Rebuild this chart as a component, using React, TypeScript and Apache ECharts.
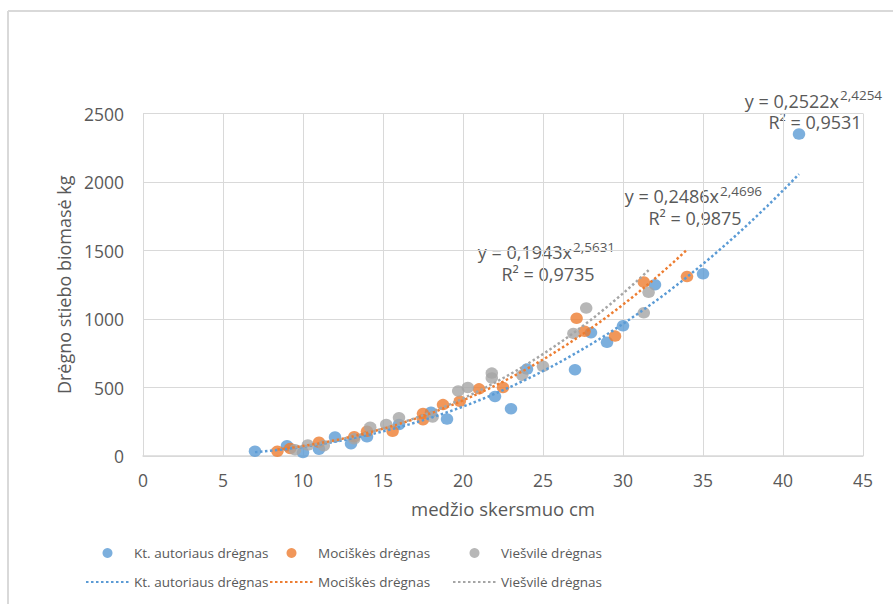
import React, { useEffect, useRef } from "react";
import * as echarts from "echarts";

// ---- data ----
const ktX = [7, 9, 10, 11, 12, 13, 14, 16, 18, 19, 22, 23, 24, 27, 28, 29, 30, 32, 35, 41];
const ktY = [35, 75, 25, 50, 138, 90, 140, 230, 320, 270, 435, 345, 635, 630, 900, 830, 950, 1250, 1330, 2350];

const mocX = [8.4, 9.2, 11, 13.2, 14, 15.6, 17.5, 17.5, 18.75, 19.8, 21, 22.5, 27.1, 27.6, 29.5, 31.3, 34];
const mocY = [35, 55, 100, 140, 180, 180, 265, 310, 375, 400, 490, 500, 1005, 910, 875, 1270, 1310];

const vieX = [9.5, 10.3, 11.3, 13.2, 14.2, 15.2, 16, 18.1, 19.7, 20.3, 21.8, 21.8, 23.7, 25, 26.9, 27.7, 31.3, 31.6];
const vieY = [45, 80, 75, 125, 210, 230, 280, 285, 475, 500, 605, 570, 590, 655, 895, 1080, 1045, 1195];

const seriesNames = ["Kt. autoriaus drėgnas", "Mociškės drėgnas", "Viešvilė drėgnas"];

// power trendline coefficients shown on the chart: y = a * x^b
const trendA = [0.2522, 0.2486, 0.1943];
const trendB = [2.4254, 2.4696, 2.5631];
const trendAText = ["0,2522", "0,2486", "0,1943"];
const trendBText = ["2,4254", "2,4696", "2,5631"];
const r2Text = ["0,9531", "0,9875", "0,9735"];

const colors = ["#5B9BD5", "#ED7D31", "#A5A5A5"];
const TREND = " trend";

const FONT = "'Open Sans', sans-serif";
const TXT = "#595959";
const GRID = "#d9d9d9";

function pairs(xs: number[], ys: number[]) {
  return xs.map((x, i) => [x, ys[i]]);
}

function trendCurve(a: number, b: number, xs: number[]) {
  const x0 = Math.min(...xs);
  const x1 = Math.max(...xs);
  const pts: number[][] = [];
  const n = 120;
  for (let i = 0; i <= n; i++) {
    const x = x0 + ((x1 - x0) * i) / n;
    pts.push([x, a * Math.pow(x, b)]);
  }
  return pts;
}

export default function App() {
  const ref = useRef<HTMLDivElement>(null);

  useEffect(() => {
    document.body.style.margin = "0";
    const chart = echarts.init(ref.current!, null, { renderer: "svg" });
    const xsAll = [ktX, mocX, vieX];
    const ysAll = [ktY, mocY, vieY];

    const scatter = seriesNames.map((name, i) => ({
      name,
      type: "scatter",
      data: pairs(xsAll[i], ysAll[i]),
      symbol: "circle",
      symbolSize: [12.5, 11.5],
      itemStyle: { color: colors[i] },
      z: 2,
    }));
    const trends = seriesNames.map((name, i) => ({
      name: name + TREND,
      type: "line",
      data: trendCurve(trendA[i], trendB[i], xsAll[i]),
      showSymbol: false,
      symbol: "none",
      smooth: false,
      lineStyle: { color: colors[i], width: 2.5, type: [2.5, 2.5] },
      itemStyle: { color: colors[i] },
      z: 3,
    }));

    const legendLefts = [85, 269, 452];
    const legends = seriesNames.map((name, i) => ({
      left: legendLefts[i],
      top: 545,
      orient: "vertical",
      padding: 0,
      itemWidth: 43,
      itemHeight: 10,
      itemGap: 13,
      selectedMode: false,
      data: [name, { name: name + TREND, itemStyle: { opacity: 0 } }],
      formatter: (n: string) => n.replace(TREND, ""),
      textStyle: { color: TXT, fontSize: 13.5, lineHeight: 16, fontFamily: FONT },
    }));

    // equation labels: [line1 right end x, line1 y, sup y, line2 center x, line2 y]
    const eqPos = [
      [839, 100.5, 95, 815, 122],
      [719, 196, 190.5, 695, 217.5],
      [572, 252, 246.5, 548, 273.5],
    ];
    const eqGraphics: any[] = [];
    eqPos.forEach((p, i) => {
      eqGraphics.push({
        type: "text",
        x: p[0],
        y: p[1],
        style: {
          text: `y = ${trendAText[i]}x`,
          align: "right",
          verticalAlign: "middle",
          fontSize: 18,
          lineHeight: 18,
          fontFamily: FONT,
          fill: TXT,
        },
      });
      eqGraphics.push({
        type: "text",
        x: p[0] + 1,
        y: p[2],
        style: {
          text: trendBText[i],
          align: "left",
          verticalAlign: "middle",
          fontSize: 13.5,
          lineHeight: 13.5,
          fontFamily: FONT,
          fill: TXT,
        },
      });
      eqGraphics.push({
        type: "text",
        x: p[3],
        y: p[4],
        style: {
          text: `R² = ${r2Text[i]}`,
          align: "center",
          verticalAlign: "middle",
          fontSize: 18,
          lineHeight: 18,
          fontFamily: FONT,
          fill: TXT,
        },
      });
    });

    const option: any = {
      animation: false,
      textStyle: { fontFamily: FONT },
      grid: { left: 143, right: 30, top: 113.5, bottom: 148, containLabel: false },
      xAxis: {
        type: "value",
        min: 0,
        max: 45,
        interval: 5,
        name: "medžio skersmuo cm",
        nameLocation: "middle",
        nameGap: 43,
        nameTextStyle: { color: TXT, fontSize: 18.5, fontFamily: FONT },
        axisLine: { show: true, lineStyle: { color: GRID, width: 1.5 } },
        axisTick: { show: false },
        axisLabel: { color: TXT, fontSize: 17.5, margin: 15, fontFamily: FONT },
        splitLine: { show: true, lineStyle: { color: GRID, width: 1 } },
      },
      yAxis: {
        type: "value",
        min: 0,
        max: 2500,
        interval: 500,
        name: "Drėgno stiebo biomasė kg",
        nameLocation: "middle",
        nameGap: 70,
        nameTextStyle: { color: TXT, fontSize: 18, fontFamily: FONT },
        axisLine: { show: false },
        axisTick: { show: false },
        axisLabel: {
          color: TXT,
          fontSize: 17.5,
          margin: 19,
          fontFamily: FONT,
          formatter: (v: number) => String(v),
        },
        splitLine: { show: true, lineStyle: { color: GRID, width: 1 } },
      },
      legend: legends,
      series: [...scatter, ...trends],
      graphic: [
        {
          type: "line",
          shape: { x1: 8, y1: 11, x2: 893, y2: 11 },
          style: { stroke: GRID, lineWidth: 2 },
          silent: true,
        },
        {
          type: "line",
          shape: { x1: 8, y1: 11, x2: 8, y2: 604 },
          style: { stroke: GRID, lineWidth: 2 },
          silent: true,
        },
        ...eqGraphics,
      ],
    };
    chart.setOption(option);
    return () => chart.dispose();
  }, []);

  return (
    <div
      ref={ref}
      style={{ position: "absolute", left: 0, top: 0, width: 893, height: 604, background: "#fff" }}
    />
  );
}
